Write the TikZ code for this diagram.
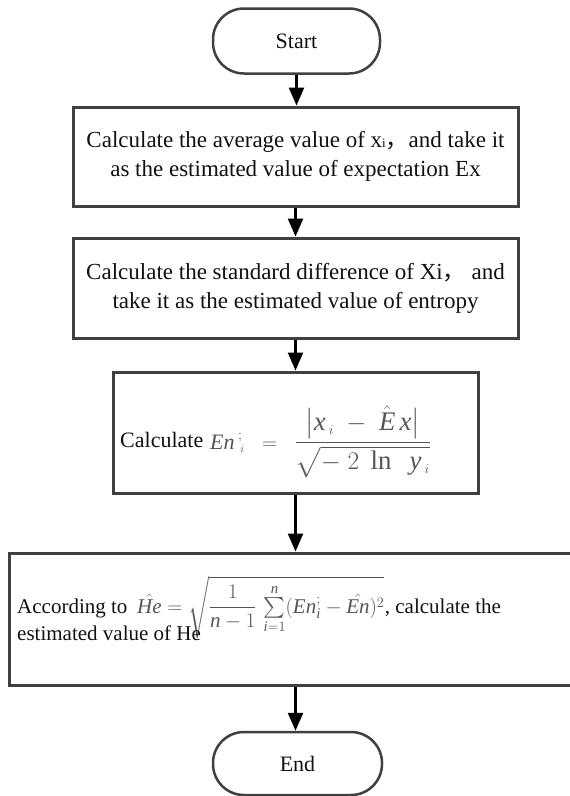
\documentclass[tikz,border=0pt]{standalone}
\usepackage{amsmath}
\usepackage{graphicx}
\usepackage{fontspec}
\setmainfont{Liberation Serif}
\newfontfamily\cjk{Noto Sans CJK SC}
\usetikzlibrary{arrows.meta}
\definecolor{boxgray}{HTML}{404040}
\definecolor{mathgray}{HTML}{555555}
\definecolor{txtblack}{HTML}{111111}
\begin{document}
\begin{tikzpicture}[x=1pt,y=-1pt,
  term/.style={draw=boxgray, line width=2.5pt, rounded corners=31pt, inner sep=0pt, fill=white,
    text=txtblack, font=\fontsize{22}{26}\selectfont},
  proc/.style={draw=boxgray, line width=3pt, inner sep=0pt, fill=white, align=center,
    text=txtblack, font=\fontsize{23}{29}\selectfont},
  txt/.style={inner sep=0pt, anchor=base west, text=txtblack},
  mth/.style={inner sep=0pt, anchor=base west, text=mathgray},
  arr/.style={line width=2.5pt, draw=black, -{Triangle[width=15pt,length=18pt]}}]
\useasboundingbox (0,0) rectangle (570,796);
\clip (0,0) rectangle (570,796);
\node[term, minimum width=167pt, minimum height=65pt] (start) at (296.5,41) {Start};
\node[proc, minimum width=445pt, minimum height=99pt] (b1) at (295.5,156.5)
  {Calculate the average value of x{\fontsize{13}{13}\selectfont i}{\cjk ，}and take it\\as the estimated value of expectation Ex};
\node[proc, minimum width=445pt, minimum height=100pt] (b2) at (295.5,288)
  {Calculate the standard difference of Xi{\cjk ，} and\\take it as the estimated value of entropy};
\node[proc, minimum width=365pt, minimum height=121pt] (b3) at (295.5,432.5) {};
\node[txt, font=\fontsize{22}{26}\selectfont] (b3a) at (120,447) {Calculate};
\node[mth] (b3f) at (210,449) {\fontsize{22}{26}\selectfont
  $\mathit{En}\,{}^{;}_{\,\scriptscriptstyle i}\;\;=\;\;\scalebox{1.22}{$\dfrac{\bigl|\mathit{x}_{\,\scriptscriptstyle i}\;-\;\hat{\mathit{E}}\,\mathit{x}\bigr|}{\sqrt{-\;2\;\ln\;\;\mathit{y}_{\,\scriptscriptstyle i}}}$}$};
\node[proc, minimum width=566pt, minimum height=132pt] (b4) at (292,619) {};
\node[txt, font=\fontsize{21}{25}\selectfont] (b4a) at (17,613) {According to};
\node[mth] (b4f) at (137,613) {\fontsize{21}{25}\selectfont
  $\hat{\mathit{He}} = \sqrt{\dfrac{1}{\mathit{n}-1}\,\sum\limits_{\mathit{i}=1}^{\mathit{n}}(\mathit{En}_{\mathit{i}}^{;}-\hat{\mathit{En}})^{2}}$};
\node[txt, font=\fontsize{21}{25}\selectfont] (b4c) at (b4f.base east) {, calculate the};
\node[txt, font=\fontsize{21}{25}\selectfont] (b4b) at (17,640) {estimated value of He};
\node[term, minimum width=169pt, minimum height=63pt] (end) at (297.5,763.5) {End};
\draw[arr] (start.south) -- (start.south |- b1.north);
\draw[arr] (b1.south) -- (b2.north);
\draw[arr] (b2.south) -- (b3.north);
\draw[arr] (b3.south) -- (b3.south |- b4.north);
\draw[arr] (b3.south |- b4.south) -- (b3.south |- end.north);
\end{tikzpicture}
\end{document}
